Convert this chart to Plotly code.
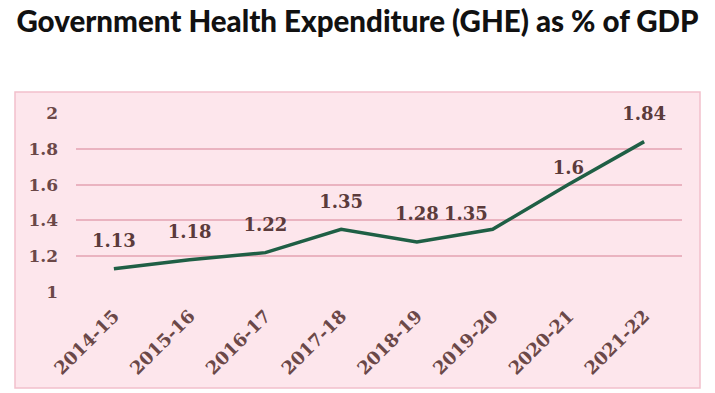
import plotly.graph_objects as go

years = ["2014-15", "2015-16", "2016-17", "2017-18", "2018-19", "2019-20", "2020-21", "2021-22"]
ghe_pct = [1.13, 1.18, 1.22, 1.35, 1.28, 1.35, 1.6, 1.84]
label_pos = ["top center", "top center", "top center", "top center", "top center", "top left", "top center", "top center"]
label_gap = [26, 26, 26, 26, 26, 6, 8, 26]
y_ticks = [1, 1.2, 1.4, 1.6, 1.8, 2]
y_tick_text = ["1", "1.2", "1.4", "1.6", "1.8", "2"]

W, H = 715, 393
L, R, T, B = 76, 715 - 682, 113, 393 - 292
pw, ph = W - L - R, H - T - B

def px_x(x):
    return (x - L) / pw

def px_y(y):
    return (H - B - y) / ph

fig = go.Figure()
fig.add_trace(go.Scatter(
    x=years, y=ghe_pct, mode="lines+markers+text",
    line=dict(color="#1f5f45", width=3.5),
    marker=dict(size=label_gap, opacity=0, color="#1f5f45"),
    text=[str(v) for v in ghe_pct], textposition=label_pos,
    textfont=dict(family="DejaVu Serif", size=18, color="#5b3b3b", weight="bold"),
    cliponaxis=False, hoverinfo="skip",
))

fig.add_shape(type="rect", xref="paper", yref="paper", layer="below",
              x0=px_x(15), x1=px_x(700), y0=px_y(388), y1=px_y(92),
              fillcolor="#fde6ec", line=dict(color="#f2c0cb", width=1.5))

fig.update_layout(
    width=W, height=H,
    margin=dict(l=L, r=R, t=T, b=B, pad=0, autoexpand=False),
    paper_bgcolor="white", plot_bgcolor="rgba(0,0,0,0)",
    showlegend=False,
    title=dict(text="Government Health Expenditure (GHE) as % of GDP",
               x=0.5, xref="container", xanchor="center", y=1 - 22 / H, yanchor="middle",
               font=dict(family="Lato", size=29.5, color="#111111", weight=900)),
    xaxis=dict(range=[-0.5, len(years) - 0.5], showgrid=False, showline=False, zeroline=False, ticks="",
               tickangle=-45, tickfont=dict(family="DejaVu Serif", size=18, color="#6b4848", weight="bold"),
               ticklabelstandoff=9, automargin=False),
    yaxis=dict(range=[1, 2], tickvals=y_ticks, ticktext=y_tick_text,
               showgrid=True, gridcolor="#eab3c0", gridwidth=1.5, zeroline=False, showline=False,
               tickfont=dict(family="DejaVu Serif", size=17, color="#6b4848", weight="bold"),
               ticklabelstandoff=17, automargin=False),
)

fig.write_html("out.html", config={"displayModeBar": False},
               post_script="document.body.style.margin='0';")
